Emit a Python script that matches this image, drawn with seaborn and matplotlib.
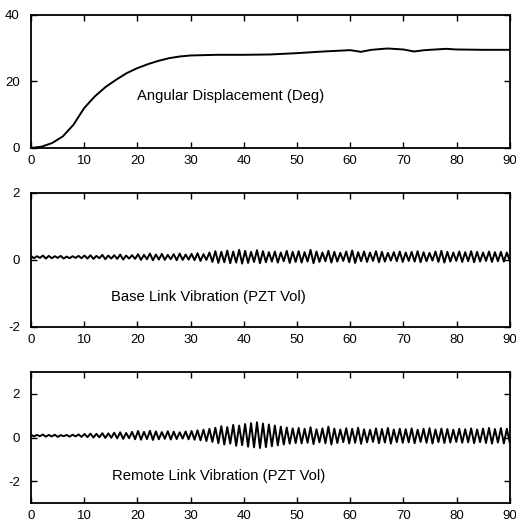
import numpy as np
import pandas as pd
import seaborn as sns
import matplotlib.pyplot as plt

# angular displacement (deg)
ang_t = [0, 2, 4, 6, 8, 10, 12, 14, 16, 18, 20, 22, 24, 26, 28, 30, 35, 40, 45, 50,
         55, 60, 62, 64, 67, 70, 72, 74, 78, 80, 85, 90]
ang_deg = [0, 0.4, 1.5, 3.5, 7.0, 12.0, 15.5, 18.3, 20.5, 22.5, 24.0, 25.2, 26.2, 27.0, 27.5, 27.8,
           28.0, 28.0, 28.1, 28.5, 29.0, 29.4, 28.9, 29.5, 29.9, 29.6, 29.0, 29.4, 29.8, 29.6, 29.5, 29.5]

# base link vibration: peaks / troughs of each cycle (9 cycles per 10 s)
base_peaks = [0.12, 0.11, 0.13, 0.12, 0.11, 0.12, 0.10, 0.11, 0.12,
              0.13, 0.14, 0.12, 0.15, 0.13, 0.14, 0.16, 0.13, 0.14,
              0.17, 0.15, 0.19, 0.16, 0.18, 0.15, 0.17, 0.19, 0.16,
              0.18, 0.20, 0.17, 0.22, 0.26, 0.24, 0.28, 0.25, 0.30,
              0.27, 0.24, 0.29, 0.26, 0.23, 0.25, 0.22, 0.27, 0.24,
              0.26, 0.23, 0.30, 0.25, 0.22, 0.27, 0.24, 0.21, 0.25,
              0.28, 0.23, 0.25, 0.22, 0.26, 0.24, 0.21, 0.23, 0.25,
              0.22, 0.24, 0.26, 0.23, 0.21, 0.25, 0.27, 0.24, 0.22,
              0.25, 0.23, 0.26, 0.24, 0.22, 0.25, 0.23, 0.24, 0.22]
base_troughs = [0.05, 0.06, 0.04, 0.05, 0.06, 0.04, 0.05, 0.06, 0.05,
                0.04, 0.03, 0.05, 0.02, 0.04, 0.03, 0.01, 0.04, 0.03,
                0.00, 0.02, -0.01, 0.01, 0.00, 0.02, -0.01, 0.00, 0.01,
                -0.01, -0.03, 0.00, -0.06, -0.09, -0.07, -0.10, -0.08, -0.11,
                -0.09, -0.06, -0.10, -0.07, -0.05, -0.08, -0.04, -0.09, -0.06,
                -0.08, -0.05, -0.10, -0.06, -0.04, -0.08, -0.05, -0.03, -0.07,
                -0.09, -0.04, -0.06, -0.03, -0.07, -0.05, -0.02, -0.04, -0.06,
                -0.03, -0.05, -0.07, -0.04, -0.02, -0.06, -0.08, -0.05, -0.03,
                -0.06, -0.04, -0.07, -0.05, -0.03, -0.06, -0.04, -0.05, -0.03]

# remote link vibration
remote_peaks = [0.13, 0.12, 0.14, 0.12, 0.13, 0.11, 0.12, 0.13, 0.14,
                0.16, 0.18, 0.17, 0.20, 0.19, 0.22, 0.24, 0.21, 0.26,
                0.30, 0.26, 0.31, 0.28, 0.25, 0.29, 0.27, 0.24, 0.28,
                0.30, 0.33, 0.36, 0.40, 0.45, 0.52, 0.48, 0.58, 0.55,
                0.62, 0.66, 0.70, 0.64, 0.60, 0.55, 0.50, 0.46, 0.42,
                0.44, 0.40, 0.47, 0.38, 0.42, 0.50, 0.41, 0.37, 0.43,
                0.40, 0.45, 0.38, 0.36, 0.42, 0.39, 0.44, 0.37, 0.40,
                0.38, 0.42, 0.36, 0.40, 0.43, 0.37, 0.41, 0.39, 0.36,
                0.40, 0.38, 0.42, 0.37, 0.41, 0.44, 0.39, 0.43, 0.40]
remote_troughs = [0.05, 0.06, 0.04, 0.05, 0.03, 0.06, 0.04, 0.05, 0.03,
                  0.02, 0.00, 0.01, -0.02, -0.01, -0.04, -0.06, -0.03, -0.08,
                  -0.10, -0.07, -0.11, -0.08, -0.06, -0.09, -0.07, -0.05, -0.08,
                  -0.10, -0.13, -0.16, -0.20, -0.26, -0.32, -0.28, -0.38, -0.35,
                  -0.42, -0.45, -0.48, -0.44, -0.40, -0.36, -0.32, -0.28, -0.25,
                  -0.27, -0.24, -0.30, -0.22, -0.26, -0.32, -0.25, -0.21, -0.27,
                  -0.24, -0.29, -0.22, -0.20, -0.26, -0.23, -0.28, -0.21, -0.24,
                  -0.22, -0.26, -0.20, -0.24, -0.27, -0.21, -0.25, -0.23, -0.20,
                  -0.24, -0.22, -0.26, -0.21, -0.25, -0.28, -0.23, -0.27, -0.24]

xticks = [0, 10, 20, 30, 40, 50, 60, 70, 80, 90]


def zigzag(peaks, troughs):
    vals = [v for pair in zip(peaks, troughs) for v in pair]
    t = np.linspace(0, 90, len(vals))
    return pd.DataFrame({"t": t, "v": vals})


sns.set_style("ticks")
plt.rcParams["font.family"] = ["Liberation Sans", "DejaVu Sans"]
plt.rcParams["axes.unicode_minus"] = False
plt.rcParams["xtick.direction"] = "in"
plt.rcParams["ytick.direction"] = "in"
plt.rcParams["xtick.top"] = True
plt.rcParams["ytick.right"] = True
plt.rcParams["text.color"] = "black"

fig = plt.figure(figsize=(5.16, 5.24), dpi=100)
ax1 = fig.add_axes([0.060, 0.7176, 0.928, 0.254])
ax2 = fig.add_axes([0.060, 0.376, 0.928, 0.256])
ax3 = fig.add_axes([0.060, 0.040, 0.928, 0.250])

ang = pd.DataFrame({"t": ang_t, "v": ang_deg})
sns.lineplot(data=ang, x="t", y="v", ax=ax1, color="black", linewidth=1.4)
sns.lineplot(data=zigzag(base_peaks, base_troughs), x="t", y="v", ax=ax2,
             color="black", linewidth=1.4)
sns.lineplot(data=zigzag(remote_peaks, remote_troughs), x="t", y="v", ax=ax3,
             color="black", linewidth=1.4)

ax1.set_ylim(0, 40)
ax1.set_yticks([0, 20, 40])
ax2.set_ylim(-2, 2)
ax2.set_yticks([-2, 0, 2])
ax3.set_ylim(-3, 3)
ax3.set_yticks([-2, 0, 2])

lbl = dict(fontsize=10.7, va="center", color="black")
ax1.text(20, 15.5, "Angular Displacement (Deg)", **lbl)
ax2.text(15, -1.1, "Base Link Vibration (PZT Vol)", **lbl)
ax3.text(15.2, -1.75, "Remote Link Vibration (PZT Vol)", **lbl)

for ax in (ax1, ax2, ax3):
    ax.set_xlim(0, 90)
    ax.set_xticks(xticks)
    ax.set_xlabel("")
    ax.set_ylabel("")
    ax.tick_params(labelsize=9.5, length=4, width=1, colors="black")
    ax.tick_params(axis="x", pad=5)
    ax.tick_params(axis="y", pad=8)
    for s in ax.spines.values():
        s.set_linewidth(1.3)
        s.set_color("black")

fig.savefig("out.png", dpi=100)
